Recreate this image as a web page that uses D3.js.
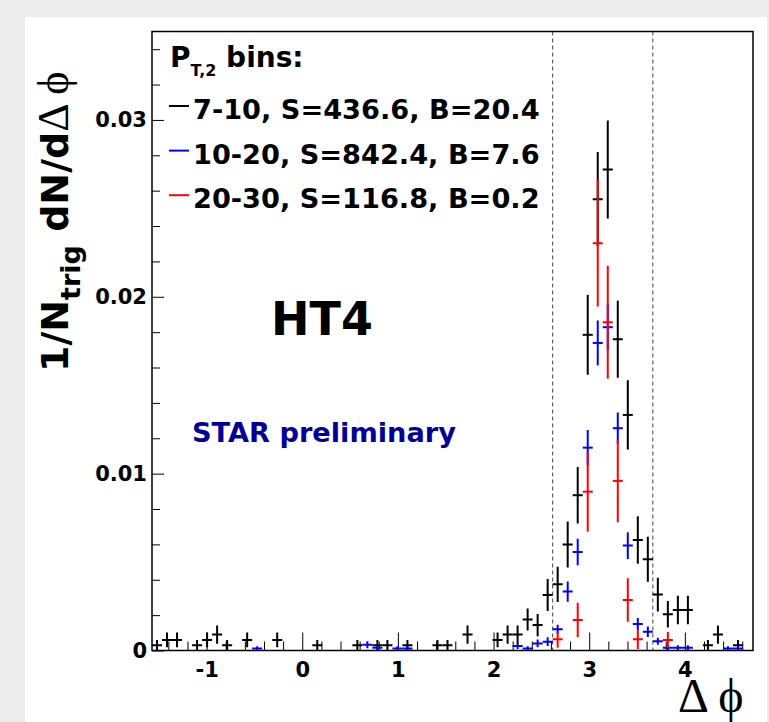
<!DOCTYPE html>
<html>
<head>
<meta charset="utf-8">
<script src="https://cdn.jsdelivr.net/npm/d3@7"></script>
<style>
  html, body { margin: 0; padding: 0; background: #ececec; }
  svg { display: block; }
</style>
</head>
<body>
<svg id="chart" width="769" height="722"></svg>
<script>
// Away-side Δϕ correlation, HT4 trigger, three associated P_T,2 bins
const nBins = 60;
const phiRange = [-Math.PI / 2, 3 * Math.PI / 2];
const windowEdges = [5 * Math.PI / 6, 7 * Math.PI / 6];

const seriesNames = ["7-10, S=436.6, B=20.4", "10-20, S=842.4, B=7.6", "20-30, S=116.8, B=0.2"];
const seriesColors = ["#000000", "#0000ff", "#ff0000"];

const bin7to10 = [
  0.0003, 0.0006, 0.0006, 0, 0.0003, 0.0006, 0.0009, 0.0003, 0, 0.0006,
  0, 0, 0.0006, 0, 0, 0, 0.0003, 0, 0, 0,
  0.0003, 0, 0.0003, 0.0003, 0, 0.0003, 0, 0, 0.0003, 0.0003,
  0, 0.0009, 0, 0, 0.0006, 0.0009, 0.0009, 0.00175, 0.00144, 0.00314,
  0.00374, 0.0060, 0.00878, 0.01785, 0.02552, 0.02720, 0.0176, 0.01332, 0.00625, 0.00516,
  0.00316, 0.00205, 0.00229, 0.00229, 0, 0.0003, 0.0009, 0, 0.0003, 0
];
const err7to10 = [
  0.0003, 0.00042, 0.00042, 0, 0.0003, 0.00042, 0.00052, 0.0003, 0, 0.00042,
  0, 0, 0.00042, 0, 0, 0, 0.0003, 0, 0, 0,
  0.0003, 0, 0.0003, 0.0003, 0, 0.0003, 0, 0, 0.0003, 0.0003,
  0, 0.00052, 0, 0, 0.00042, 0.00052, 0.00052, 0.00062, 0.00063, 0.0009,
  0.001, 0.0013, 0.0016, 0.00226, 0.00266, 0.00277, 0.00218, 0.00196, 0.00134, 0.00127,
  0.00095, 0.00075, 0.0008, 0.0008, 0, 0.0003, 0.00052, 0, 0.0003, 0
];

const bin10to20 = [
  0, 0, 0, 0, 0, 0, 0, 0, 0, 0,
  0.00012, 0, 0, 0, 0, 0, 0, 0, 0, 0,
  0, 0.00033, 0.00015, 0, 0.00012, 0.00012, 0, 0, 0, 0,
  0, 0, 0, 0, 0, 0, 0.00025, 0.00012, 0.0004, 0.0005,
  0.0012, 0.00333, 0.00557, 0.01147, 0.01739, 0.01828, 0.01257, 0.00593, 0.0015, 0.00106,
  0.00052, 0.00016, 0.00016, 0.00016, 0, 0, 0, 0.00012, 0.00012, 0
];
const err10to20 = [
  0, 0, 0, 0, 0, 0, 0, 0, 0, 0,
  0.00012, 0, 0, 0, 0, 0, 0, 0, 0, 0,
  0, 0.0002, 0.00013, 0, 0.00012, 0.00012, 0, 0, 0, 0,
  0, 0, 0, 0, 0, 0, 0.00017, 0.00012, 0.00022, 0.00025,
  0.00025, 0.00057, 0.00075, 0.001, 0.00127, 0.0013, 0.00089, 0.00075, 0.00034, 0.0003,
  0.0002, 0.00013, 0.00013, 0.00013, 0, 0, 0, 0.00012, 0.00012, 0
];

const bin20to30 = [
  0, 0, 0, 0, 0, 0, 0, 0, 0, 0,
  0, 0, 0, 0, 0, 0, 0, 0, 0, 0,
  0, 0, 0, 0, 0, 0, 0, 0, 0, 0,
  0, 0, 0, 0, 0, 0, 0, 0, 0, 0,
  0.00063, 0, 0.00173, 0.00898, 0.02303, 0.01856, 0.00959, 0.00286, 0.00063, 0,
  0, 0.00059, 0, 0, 0, 0, 0, 0, 0, 0
];
const err20to30 = [
  0, 0, 0, 0, 0, 0, 0, 0, 0, 0,
  0, 0, 0, 0, 0, 0, 0, 0, 0, 0,
  0, 0, 0, 0, 0, 0, 0, 0, 0, 0,
  0, 0, 0, 0, 0, 0, 0, 0, 0, 0,
  0.00047, 0, 0.00097, 0.00226, 0.00358, 0.00319, 0.00234, 0.00123, 0.00054, 0,
  0, 0.00045, 0, 0, 0, 0, 0, 0, 0, 0
];

const xMajorTicks = [-1, 0, 1, 2, 3, 4];
const yMajorTicks = [0, 0.01, 0.02, 0.03];
const yTickLabels = ["0", "0.01", "0.02", "0.03"];

const seriesValues = [bin7to10, bin10to20, bin20to30];
const seriesErrors = [err7to10, err10to20, err20to30];

// ---- layout ----
const W = 769, H = 722;
const frame = { left: 152, right: 753, top: 31.5, bottom: 650.5 };
const boldFont = "'DejaVu Sans', sans-serif";
const serifFont = "'Liberation Serif', 'DejaVu Serif', serif";

const svg = d3.select("#chart");
svg.append("rect").attr("width", W).attr("height", H).attr("fill", "#ececec");
svg.append("rect").attr("x", 25).attr("y", 17).attr("width", 742).attr("height", H - 17).attr("fill", "#ffffff");

const x = d3.scaleLinear().domain(phiRange).range([frame.left, frame.right]);
const y = d3.scaleLinear().domain([0, 0.035]).range([frame.bottom, frame.top]);
const binWidth = (phiRange[1] - phiRange[0]) / nBins;

svg.append("clipPath").attr("id", "plotClip")
  .append("rect")
  .attr("x", frame.left).attr("y", frame.top)
  .attr("width", frame.right - frame.left).attr("height", frame.bottom - frame.top);

// dashed lines marking the away-side window
svg.append("g").selectAll("line").data(windowEdges).join("line")
  .attr("x1", d => x(d)).attr("x2", d => x(d))
  .attr("y1", frame.top).attr("y2", frame.bottom)
  .attr("stroke", "#444").attr("stroke-width", 1).attr("stroke-dasharray", "4,3");

// axes (ticks drawn inward)
function styleAxis(g) {
  g.select(".domain").remove();
  g.selectAll(".tick line").attr("stroke", "#000").attr("stroke-width", 1);
  g.selectAll("text").attr("fill", "#000")
    .style("font-family", boldFont).style("font-weight", "bold").style("font-size", "21px");
}

const xMinor = d3.range(-7, 24).map(k => k / 5).filter(v => Math.abs(v - Math.round(v)) > 1e-9);
svg.append("g").attr("transform", `translate(0,${frame.bottom})`)
  .call(d3.axisBottom(x).tickValues(xMinor).tickSize(-9).tickFormat(""))
  .call(styleAxis);
svg.append("g").attr("transform", `translate(0,${frame.bottom})`)
  .call(d3.axisBottom(x).tickValues(xMajorTicks).tickSize(-18).tickPadding(12).tickFormat(d => String(d)))
  .call(styleAxis);

const yMinor = d3.range(1, 18).map(k => k * 0.002).filter(v => Math.abs(v * 100 - Math.round(v * 100)) > 1e-9);
svg.append("g").attr("transform", `translate(${frame.left},0)`)
  .call(d3.axisLeft(y).tickValues(yMinor).tickSize(-8).tickFormat(""))
  .call(styleAxis);
svg.append("g").attr("transform", `translate(${frame.left},0)`)
  .call(d3.axisLeft(y).tickValues(yMajorTicks).tickSize(-12).tickPadding(5)
    .tickFormat((d, i) => yTickLabels[i]))
  .call(styleAxis);

// histogram points with error bars
const plot = svg.append("g").attr("clip-path", "url(#plotClip)");
seriesValues.forEach((vals, s) => {
  const pts = vals.map((v, i) => ({
    lo: phiRange[0] + i * binWidth,
    hi: phiRange[0] + (i + 1) * binWidth,
    v, e: seriesErrors[s][i]
  })).filter(p => p.v > 0);
  const g = plot.append("g").attr("stroke", seriesColors[s]).attr("stroke-width", 2);
  g.selectAll("line.v").data(pts).join("line").attr("class", "v")
    .attr("x1", p => x((p.lo + p.hi) / 2)).attr("x2", p => x((p.lo + p.hi) / 2))
    .attr("y1", p => y(p.v - p.e)).attr("y2", p => y(p.v + p.e));
  g.selectAll("line.h").data(pts).join("line").attr("class", "h")
    .attr("x1", p => x(p.lo)).attr("x2", p => x(p.hi))
    .attr("y1", p => y(p.v)).attr("y2", p => y(p.v));
});

// frame
svg.append("rect")
  .attr("x", frame.left).attr("y", frame.top)
  .attr("width", frame.right - frame.left).attr("height", frame.bottom - frame.top)
  .attr("fill", "none").attr("stroke", "#000").attr("stroke-width", 1.5);

// legend
const legend = svg.append("g");
const header = legend.append("text").attr("x", 170).attr("y", 67)
  .style("font-family", boldFont).style("font-weight", "bold").style("font-size", "28px").attr("fill", "#000");
header.append("tspan").text("P");
header.append("tspan").attr("dy", 9).style("font-size", "16px").text("T,2");
header.append("tspan").attr("dy", -9).text(" bins:");

seriesNames.forEach((name, i) => {
  const base = 119 + i * 44.6;
  legend.append("line").attr("x1", 169).attr("x2", 189)
    .attr("y1", base - 13).attr("y2", base - 13)
    .attr("stroke", seriesColors[i]).attr("stroke-width", 2);
  legend.append("text").attr("x", 193).attr("y", base)
    .style("font-family", boldFont).style("font-weight", "bold").style("font-size", "27.2px")
    .attr("fill", "#000").text(name);
});

// labels inside the frame
svg.append("text").attr("x", 271).attr("y", 335)
  .style("font-family", boldFont).style("font-weight", "bold").style("font-size", "46px")
  .attr("fill", "#000").text("HT4");
svg.append("text").attr("x", 192).attr("y", 442)
  .style("font-family", boldFont).style("font-weight", "bold").style("font-size", "27.2px")
  .attr("fill", "#000099").text("STAR preliminary");

// axis titles
svg.append("text").attr("x", 678).attr("y", 712)
  .style("font-family", serifFont).style("font-size", "48px").attr("fill", "#000")
  .text("Δ ϕ");

const yTitle = svg.append("text")
  .attr("transform", "translate(68,372) rotate(-90)")
  .style("font-family", boldFont).style("font-weight", "bold").style("font-size", "38px").attr("fill", "#000");
yTitle.append("tspan").text("1/N");
yTitle.append("tspan").attr("dy", 12).style("font-size", "27px").text("trig");
yTitle.append("tspan").attr("dy", -12).text(" dN/d");
yTitle.append("tspan").style("font-family", serifFont).style("font-weight", "normal").style("font-size", "44px").text("Δ ϕ");
</script>
</body>
</html>
